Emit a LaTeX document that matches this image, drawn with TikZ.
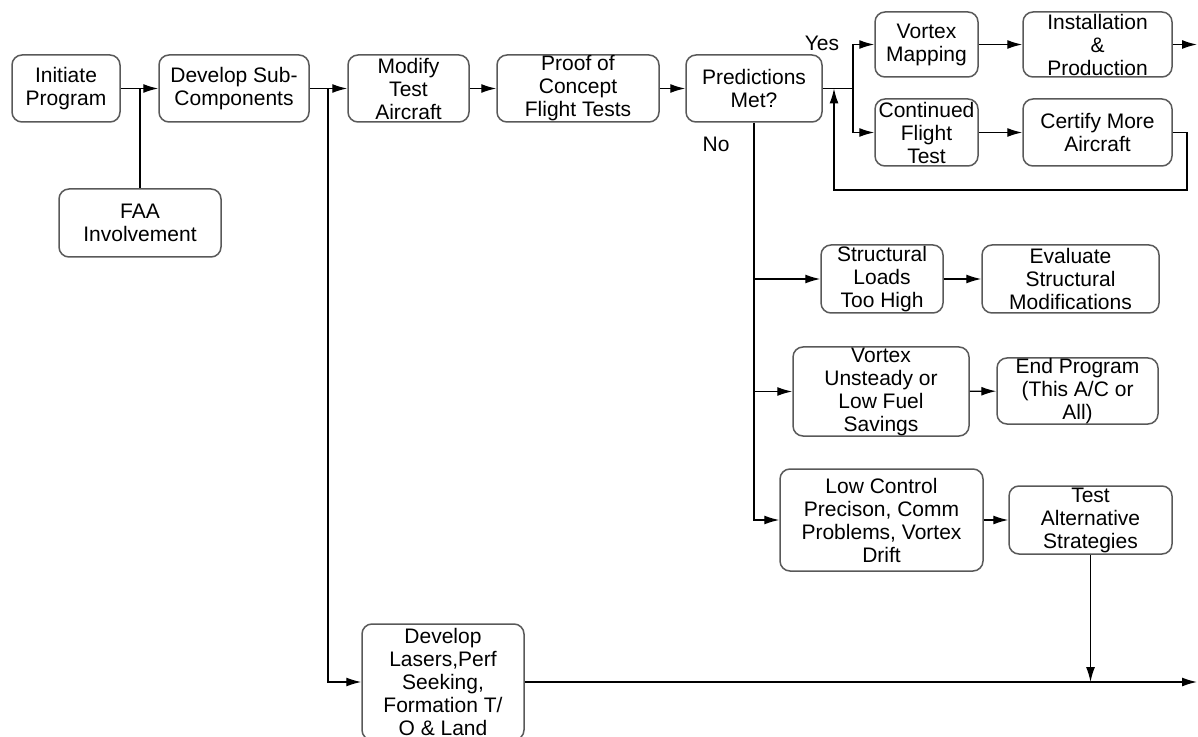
\documentclass[tikz,border=0pt]{standalone}
\usepackage{fontspec}
\setmainfont{Liberation Sans}
\usetikzlibrary{positioning, calc, arrows.meta}

\begin{document}
\begin{tikzpicture}[
    x=0.5pt, y=-0.5pt,
    stepbox/.style={draw=black!65, line width=0.75pt, rounded corners=5pt, align=center, inner sep=0pt, font=\fontsize{10.5}{11.5}\selectfont},
    directed/.style={-{Latex[length=7.5pt,width=4.5pt]}, line width=0.7pt},
    link/.style={line width=0.7pt},
    lbl/.style={font=\fontsize{10.5}{11.5}\selectfont}
]
\useasboundingbox (0,0) rectangle (1198,737);

% main line
\node[stepbox, minimum width=54pt, minimum height=33.5pt] (init) at (66,88.5) {Initiate\\Program};
\node[stepbox, minimum width=75pt, minimum height=33.5pt] (subcomp) at (234,88.5) {Develop Sub-\\Components};
\node[stepbox, minimum width=81pt, minimum height=34pt] (faa) at (140,223) {FAA\\Involvement};
\node[stepbox, minimum width=60.5pt, minimum height=33.5pt] (modify) at (408.5,88.5) {Modify\\Test\\Aircraft};
\node[stepbox, minimum width=81pt, minimum height=33.5pt] (proof) at (578,88.5) {Proof of\\Concept\\Flight Tests};
\node[stepbox, minimum width=68pt, minimum height=33.5pt] (pred) at (754,88.5) {Predictions\\Met?};

% yes branch
\node[stepbox, minimum width=51.5pt, minimum height=32.5pt] (vmap) at (926.5,44.5) {Vortex\\Mapping};
\node[stepbox, minimum width=74.5pt, minimum height=32.5pt] (install) at (1097.5,44.5) {Installation\\\&\\Production};
\node[stepbox, minimum width=51.5pt, minimum height=33.5pt] (contd) at (926.5,132.5) {Continued\\Flight\\Test};
\node[stepbox, minimum width=74.5pt, minimum height=33.5pt] (certify) at (1097.5,132.5) {Certify More\\Aircraft};

% no branch
\node[stepbox, minimum width=61pt, minimum height=34pt] (loads) at (882,279) {Structural\\Loads\\Too High};
\node[stepbox, minimum width=88.5pt, minimum height=34pt] (evalmod) at (1070.5,279) {Evaluate\\Structural\\Modifications};
\node[stepbox, minimum width=88pt, minimum height=44.5pt] (unsteady) at (881,391.5) {Vortex\\Unsteady or\\Low Fuel\\Savings};
\node[stepbox, minimum width=80.5pt, minimum height=33pt] (endprog) at (1077.5,391) {End Program\\(This A/C or\\All)};
\node[stepbox, minimum width=101.5pt, minimum height=51pt] (lowctrl) at (881.5,520) {Low Control\\Precison, Comm\\Problems, Vortex\\Drift};
\node[stepbox, minimum width=81.5pt, minimum height=34pt] (altstrat) at (1090.5,520) {Test\\Alternative\\Strategies};
\node[stepbox, minimum width=81pt, minimum height=58pt] (lasers) at (443,682) {Develop\\Lasers,Perf\\Seeking,\\Formation T/\\O \& Land};

\node[lbl] (yes) at (822,43) {Yes};
\node[lbl] (no) at (716,144) {No};

\coordinate (split) at (328,88.5);
\coordinate (yfork) at (853,88.5);
\coordinate (loopin) at (834,88.5);
\coordinate (loopR) at (1187,190);
\coordinate (outtop) at (1197,44.5);
\coordinate (outbot) at (1197,682);

\draw[directed] (init) -- (subcomp);
\draw[link] (faa.north) -- (faa.north |- init.east);
\draw[directed] (subcomp) -- (modify);
\draw[directed] (split) |- (lasers.west);
\draw[directed] (modify) -- (proof);
\draw[directed] (proof) -- (pred);
\draw[link] (pred.east) -- (yfork);
\draw[directed] (yfork) |- (vmap.west);
\draw[directed] (yfork) |- (contd.west);
\draw[directed] (vmap) -- (install);
\draw[directed] (install.east) -- (outtop);
\draw[directed] (contd) -- (certify);
\draw[directed] (certify.east) -| (loopR) -| (loopin);

\draw[directed] (pred.south) |- (lowctrl.west);
\draw[directed] (pred.south |- loads.west) -- (loads.west);
\draw[directed] (pred.south |- unsteady.west) -- (unsteady.west);
\draw[directed] (loads) -- (evalmod);
\draw[directed] (unsteady) -- (endprog);
\draw[directed] (lowctrl) -- (altstrat);

\draw[directed] (lasers.east) -- (outbot);
\draw[directed] (altstrat.south) -- (altstrat.south |- outbot);

\end{tikzpicture}
\end{document}
